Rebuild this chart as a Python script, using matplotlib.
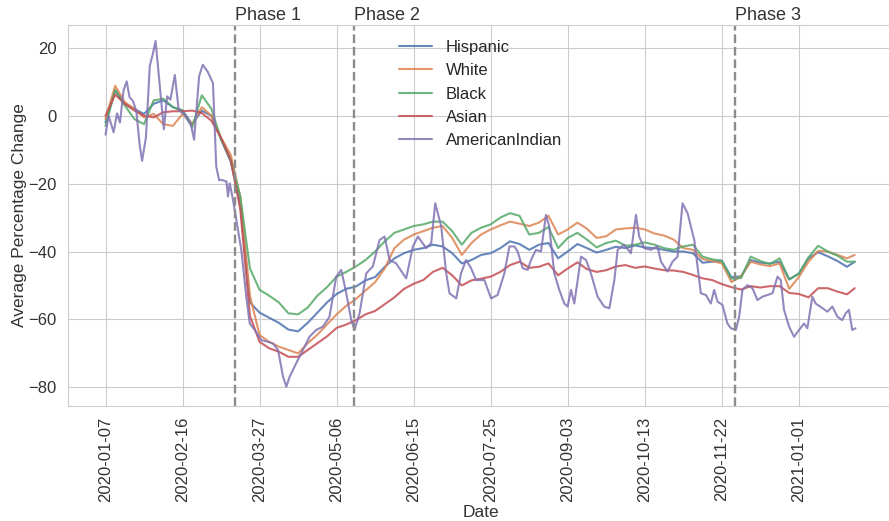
import numpy as np
import pandas as pd
import seaborn as sns
import matplotlib
matplotlib.use("Agg")
import matplotlib.pyplot as plt

sns.set_style("whitegrid")
plt.rcParams["font.family"] = ["Liberation Sans", "DejaVu Sans"]

start = pd.Timestamp("2020-01-07")

# days after 2020-01-07 (values read every 5 days)
days = list(range(0, 386, 5)) + [389]

hispanic = [-2, 7.5, 3.5, 2, 0.5, 3.5, 4.5, 2.5, 1.5, -2.5, 1.5, 0, -7, -13.5, -26, -55,
            -58, -59.5, -61, -63, -63.5, -61, -58, -55, -52.5, -51, -50.3, -48.5, -47.5,
            -44.5, -42, -40.5, -39.5, -39, -38, -38.5, -40.5, -43.5, -42.5, -41, -40.5,
            -39, -37, -37.8, -39.5, -38, -37.5, -42, -40, -37.8, -39, -40.3, -39.5, -38.6,
            -39, -38.2, -38.8, -39, -39.5, -40, -40, -40.5, -43.3, -43, -42.7, -47.6,
            -47.3, -42.5, -43.3, -43.5, -43, -48.2, -46.5, -42, -40.2, -41.4, -42.8,
            -44.5, -43]
white = [-1, 8.8, 4, 2, -0.5, 0.5, -2.5, -3, 0.5, -2.5, 2.5, 0, -6.5, -11.5, -24, -53,
         -64.6, -66.6, -68, -69, -70, -67, -64.5, -61.5, -58.5, -56, -54, -51.5, -49,
         -45, -39, -36.5, -35, -34, -33, -32.5, -36, -41, -37.5, -35, -33.5, -32.3,
         -31.2, -31.8, -32.5, -31.5, -29.5, -35, -33.5, -31.5, -33.3, -36, -35.5, -33.5,
         -33.2, -33, -33.5, -34.7, -35.3, -36.5, -39, -39.5, -42.2, -42.8, -43.5, -49,
         -47.3, -43, -43.8, -44.3, -43.5, -51, -47.5, -43, -39.8, -40, -41, -42, -41]
black = [-3, 7.5, 3, -1, -2.5, 4.5, 5, 2.5, 1.5, -3.5, 6, 2, -7, -13, -23.8, -45,
         -51.3, -53, -55, -58.2, -58.5, -56.5, -53, -50.5, -47.4, -46, -44.4, -42.5,
         -40, -37, -34.5, -33.5, -32.5, -32, -31.2, -31.2, -34, -38, -34.5, -33, -32,
         -30, -28.7, -29.5, -35, -34.5, -32.8, -39, -36, -34.5, -36.5, -38.8, -37.5,
         -36.8, -38.3, -38, -37.3, -38, -39, -39.5, -38.5, -38, -41.5, -42.3, -42.7,
         -48, -47.8, -41.5, -42.8, -43.7, -42, -48.2, -46.5, -41.7, -38.3, -40, -41.2,
         -43, -43]
asian = [0, 6.2, 3.5, 1.5, 0, -0.5, 1, 1.3, 1.3, 1.5, 0.8, -1.5, -6.5, -13, -27.7, -59,
         -66.6, -68.5, -69.5, -71, -71, -69, -67, -65, -62.5, -61.5, -60.2, -58.5,
         -57.5, -55.5, -53.5, -51, -49.5, -48.4, -46, -44.8, -47, -50, -48.5, -48,
         -47.4, -46, -44, -43, -44.8, -44.5, -43.5, -47, -45, -43.2, -45.2, -46, -45.5,
         -44.4, -44, -44.8, -44.4, -45, -45.5, -45.6, -46, -46.9, -47.9, -48.4, -49.6,
         -50.5, -51.2, -50.2, -50.6, -50.2, -50.2, -52.2, -52.5, -53.5, -50.8, -50.8,
         -51.8, -52.6, -50.8]

# AmericanIndian is noisier, read at its turning points
ai_days = [0, 1.6, 4.2, 6, 7.5, 9.4, 11, 12.5, 14.2, 16, 17.7, 19, 21, 23, 24.5, 26,
           27.7, 30.3, 32, 33.7, 36, 38, 41, 44.4, 46, 48.6, 50.5, 53, 55.8, 57.5, 59,
           60.2, 62.8, 63.6, 64.5, 66.2, 68.8, 70.5, 73.1, 74.9, 77.5, 80.9, 84.4, 87,
           89.6, 92.2, 93.9, 95.6, 99, 102.5, 105.9, 109.4, 112.9, 116.3, 119.8, 122.4,
           125, 127.6, 129.3, 131.9, 135.4, 138.8, 142.3, 144.9, 147.5, 150.9, 156.1,
           159.6, 162.2, 166.5, 169.1, 171.2, 174.3, 176.9, 178.6, 182.1, 184.6, 187.2,
           189.8, 192.4, 196.7, 200.2, 203.6, 207.1, 209.7, 212.3, 214, 216.6, 219.2,
           220.9, 223.5, 226.1, 228.7, 230.4, 233, 235.6, 238.2, 239.9, 241.7, 243.4,
           246.9, 249.5, 252, 255.5, 258.9, 261.6, 264.2, 265.9, 269.3, 272.8, 275.4,
           277.1, 279.7, 283.2, 286.6, 288.4, 291.8, 294.4, 297, 299.6, 302.2, 304.8,
           305.7, 307.4, 309.1, 311.7, 314.3, 316, 317.8, 320.3, 322.9, 324.7, 327.3,
           329, 330.7, 333.3, 335.9, 338.5, 341.1, 343.7, 346.3, 348.9, 350.6, 352.3,
           354.9, 357.5, 360.1, 362.7, 364.4, 367, 368.7, 372.2, 374.8, 377.4, 380,
           382.5, 384.3, 386, 387.7, 389.4]
american_indian = [-5.6, 0, -4.9, 0.7, -2, 7.5, 10.1, 5.4, 4.4, 1.4, -8.4, -13.3, -6.4,
                   14.7, 18, 22, 11.6, -4, 5.7, 4.7, 12, 1.7, 0.3, -2.7, -7.1, 11.6, 15,
                   13, 9.6, -15, -19, -18.9, -19.4, -23.8, -19.9, -24.8, -33.6, -39.5,
                   -53.3, -61.2, -63.1, -66.1, -66.6, -67.1, -69, -76.9, -79.8, -76.9,
                   -72.9, -69, -65.1, -63.1, -62.1, -59.2, -47.4, -45.4, -52.3, -60.2,
                   -63.1, -58.2, -46.4, -44.4, -36.6, -35.6, -42.5, -43.5, -47.9, -38.5,
                   -35.6, -39, -37.5, -25.8, -32.6, -46.4, -52.3, -53.8, -46.4, -42.5,
                   -44.9, -48.4, -48.4, -53.8, -52.8, -46.4, -38.5, -38.5, -40, -44.9,
                   -45.4, -42.5, -39.5, -40, -29.2, -32.6, -46.4, -51.3, -55.3, -56.2,
                   -51.3, -55.3, -41.5, -42.5, -46.4, -53.3, -56.2, -56.7, -48.4, -39.5,
                   -38, -40.5, -29.2, -35.6, -39, -39.5, -38.5, -43, -45.9, -43, -41.5,
                   -25.8, -28.7, -34.6, -36.6, -44.5, -52.3, -52.8, -55.3, -51.3, -54.8,
                   -55.7, -61.2, -62.6, -63.1, -59.2, -51.3, -49.9, -50.8, -54.3, -53.3,
                   -52.8, -52.3, -47.4, -48.4, -57.2, -62.1, -65.1, -63.1, -61.2, -62.6,
                   -53.3, -55.3, -56.7, -57.7, -56.2, -59.2, -60.2, -58.2, -57.2, -63.1,
                   -62.6]

series_names = ["Hispanic", "White", "Black", "Asian", "AmericanIndian"]
series_x = [days, days, days, days, ai_days]
series_values = [hispanic, white, black, asian, american_indian]
colors = ["#4C72B0", "#DD8452", "#55A868", "#C44E52", "#8172B3"]

phase_labels = ["Phase 1", "Phase 2", "Phase 3"]
phase_dates = ["2020-03-14", "2020-05-15", "2020-11-29"]

tick_days = list(range(0, 361, 40))
tick_labels = [(start + pd.Timedelta(days=d)).strftime("%Y-%m-%d") for d in tick_days]

fig = plt.figure(figsize=(8.89, 5.21), dpi=100)
ax = fig.add_axes([68 / 889, 1 - 405.7 / 521, 825 / 889, 380.7 / 521])

for name, xs, vals, c in zip(series_names, series_x, series_values, colors):
    ax.plot(xs, vals, color=c, lw=1.5, alpha=0.85, label=name)

ax.set_ylim(-85.4, 26.7)
for lab, d in zip(phase_labels, phase_dates):
    x = (pd.Timestamp(d) - start).days
    ax.axvline(x, color="#8c8c8c", ls="--", lw=1.7)
    ax.text(x, 26.9, lab, fontsize=13, color="#333333", va="bottom", ha="left")

ax.set_xticks(tick_days)
ax.set_xticklabels(tick_labels, rotation=90)
ax.tick_params(axis="both", labelsize=12, pad=4.5, colors="#333333")
ax.set_xlabel("Date", fontsize=12.5, color="#333333", labelpad=2)
ax.set_ylabel("Average Percentage Change", fontsize=12.5, color="#333333", labelpad=1)

ax.legend(loc="upper center", fontsize=12, frameon=False)

fig.savefig("out.png", dpi=100)
